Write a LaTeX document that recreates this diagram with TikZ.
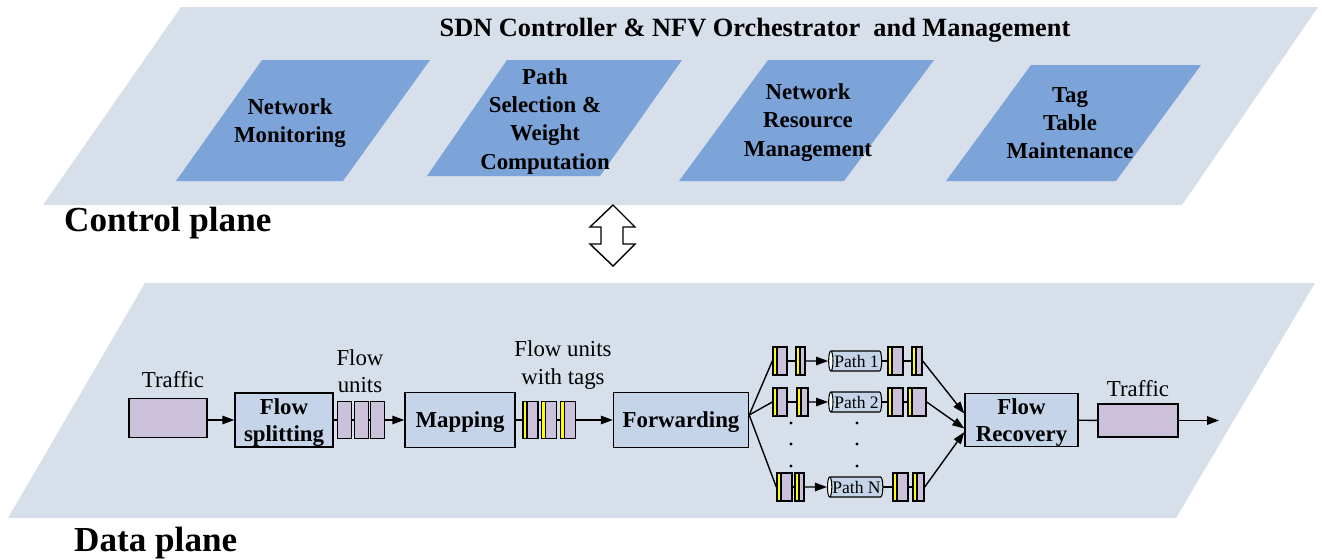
\documentclass[tikz,border=0pt]{standalone}
\usepackage{fontspec}
\setmainfont{Liberation Serif}
\usetikzlibrary{arrows.meta,shapes.geometric,positioning}

\definecolor{planefill}{RGB}{214,223,234}
\definecolor{modfill}{RGB}{124,164,217}
\definecolor{blockfill}{RGB}{197,212,232}
\definecolor{unitfill}{RGB}{204,193,218}
\definecolor{tagyellow}{RGB}{255,255,0}

\tikzset{
  modtext/.style={align=center, text depth=0pt, font=\fontsize{13}{16}\selectfont\bfseries},
  block/.style={draw, line width=0.8pt, fill=blockfill, inner sep=0pt, align=center,
    text depth=0pt, font=\fontsize{13}{15.5}\selectfont\bfseries},
  unit/.style={draw, line width=0.8pt, fill=unitfill, inner sep=0pt},
  tagunit/.style={unit, path picture={
      \fill[tagyellow] (path picture bounding box.north west) rectangle
        ([xshift=0.08cm]path picture bounding box.south west);
      \draw[line width=0.8pt] ([xshift=0.08cm]path picture bounding box.north west) --
        ([xshift=0.08cm]path picture bounding box.south west);}},
  pipe/.style={cylinder, shape border rotate=180, draw, line width=0.6pt,
    cylinder uses custom fill, cylinder body fill=blockfill, cylinder end fill=white,
    aspect=0.35, minimum height=1.06cm, minimum width=0.4cm, inner sep=0pt,
    font=\fontsize{10}{12}\selectfont},
  lbl/.style={align=center, font=\fontsize{13}{15.5}\selectfont},
  link/.style={line width=0.8pt},
  flow/.style={line width=0.8pt, -{Triangle[length=0.24cm,width=0.17cm]}},
  planelbl/.style={anchor=west, font=\fontsize{20}{24}\selectfont\bfseries}
}

\begin{document}
\begin{tikzpicture}[x=0.02cm, y=-0.02cm]
  \useasboundingbox (0,0) rectangle (1322,559);

  % Planes
  \fill[planefill] (181,7) -- (1318,7) -- (1182,205) -- (43,205) -- cycle;
  \fill[planefill] (145,283) -- (1315,283) -- (1176,518) -- (8,518) -- cycle;
  \node[planelbl] (cplane) at (58,223) {Control plane};
  \node[planelbl] (dplane) at (68,543) {Data plane};

  % Control plane modules
  \node[font=\fontsize{15}{18}\selectfont\bfseries] (title) at (755,30)
    {SDN Controller \& NFV Orchestrator\ \ and Management};
  \fill[modfill] (262,60) -- (430,60) -- (343,181) -- (176,181) -- cycle;
  \fill[modfill] (507,60) -- (682,60) -- (600,176) -- (427,176) -- cycle;
  \fill[modfill] (768,60) -- (934,60) -- (844,181) -- (679,181) -- cycle;
  \fill[modfill] (1031,65) -- (1201,65) -- (1116,181) -- (946,181) -- cycle;
  \node[modtext] (mon) at (290,121) {Network\\Monitoring};
  \node[modtext] (psel) at (545,119) {Path\\Selection \&\\Weight\\Computation};
  \node[modtext] (res) at (808,120) {Network\\Resource\\Management};
  \node[modtext] (tagtab) at (1070,123) {Tag\\Table\\Maintenance};

  % Interface arrow
  \draw[line width=0.8pt, fill=white] (613,205) -- (635,227) -- (623,227) -- (623,244)
    -- (635,244) -- (613,266) -- (590,244) -- (601,244) -- (601,227) -- (590,227) -- cycle;

  % Data plane pipeline
  \node[unit, minimum width=1.56cm, minimum height=0.78cm] (trin) at (168,418) {};
  \node[lbl] (trinlbl) at (173,380) {Traffic};
  \node[block, minimum width=1.96cm, minimum height=1.08cm] (split) at (284,420) {Flow\\splitting};
  \foreach \n/\x in {1/344.5, 2/361.5, 3/377.5}
    \node[unit, minimum width=0.28cm, minimum height=0.74cm] (fu\n) at (\x,420) {};
  \node[lbl] (fulbl) at (360,371) {Flow\\units};
  \node[block, minimum width=2.2cm, minimum height=1.1cm] (map) at (460,420) {Mapping};
  \foreach \n/\x in {1/530.5, 2/549, 3/568}
    \node[tagunit, minimum width=0.3cm, minimum height=0.74cm] (tu\n) at (\x,420) {};
  \node[lbl] (tulbl) at (563,365) {Flow units\\with tags};
  \node[block, minimum width=2.7cm, minimum height=1.1cm] (fwd) at (681,420) {Forwarding};

  % Paths
  \foreach \r/\y/\ax/\aw/\bx/\bw/\cx/\dx/\dw/\name in {
    1/361/780/0.28/800.5/0.18/895.5/917/0.2/Path 1,
    2/402/780/0.28/802.5/0.22/895.5/917/0.36/Path 2,
    3/487/784.5/0.3/799.5/0.18/900.5/918.5/0.22/Path N}{
    \node[tagunit, minimum width=\aw cm, minimum height=0.56cm] (a\r) at (\ax,\y) {};
    \node[tagunit, minimum width=\bw cm, minimum height=0.56cm] (b\r) at (\bx,\y) {};
    \node[pipe] (p\r) at (856.5,\y) {\name};
    \node[tagunit, minimum width=0.3cm, minimum height=0.56cm] (c\r) at (\cx,\y) {};
    \node[tagunit, minimum width=\dw cm, minimum height=0.56cm] (d\r) at (\dx,\y) {};
  }
  \foreach \x in {791, 857}
    \foreach \y in {423, 444, 466}
      \fill (\x,\y) circle (1.6);

  \node[block, minimum width=2.26cm, minimum height=1.06cm] (rec) at (1021.5,420) {Flow\\Recovery};
  \node[unit, minimum width=1.6cm, minimum height=0.66cm] (trout) at (1138,420.5) {};
  \node[lbl] (troutlbl) at (1138,389) {Traffic};
  \coordinate (exit) at (1219,420.5);

  % Connectors
  \draw[flow] (trin.east |- split.west) -- (split.west);
  \draw[link] (split) -- (fu1) -- (fu2) -- (fu3);
  \draw[flow] (fu3) -- (map);
  \draw[link] (map) -- (tu1) -- (tu2) -- (tu3);
  \draw[flow] (tu3) -- (fwd);
  \foreach \r in {1,2,3}{
    \draw[link] ([yshift=0.1cm]fwd.east) -- (a\r.west);
    \draw[link] (a\r) -- (b\r);
    \draw[flow] (b\r) -- (p\r);
    \draw[link] (p\r) -- (c\r) -- (d\r);
  }
  \draw[flow] (d1.east) -- ([yshift=0.13cm]rec.west);
  \draw[flow] (d2.east) -- ([yshift=-0.17cm]rec.west);
  \draw[flow] (d3.east) -- ([yshift=-0.24cm]rec.west);
  \draw[link] (rec) -- (trout);
  \draw[flow] (trout) -- (exit);
\end{tikzpicture}
\end{document}
